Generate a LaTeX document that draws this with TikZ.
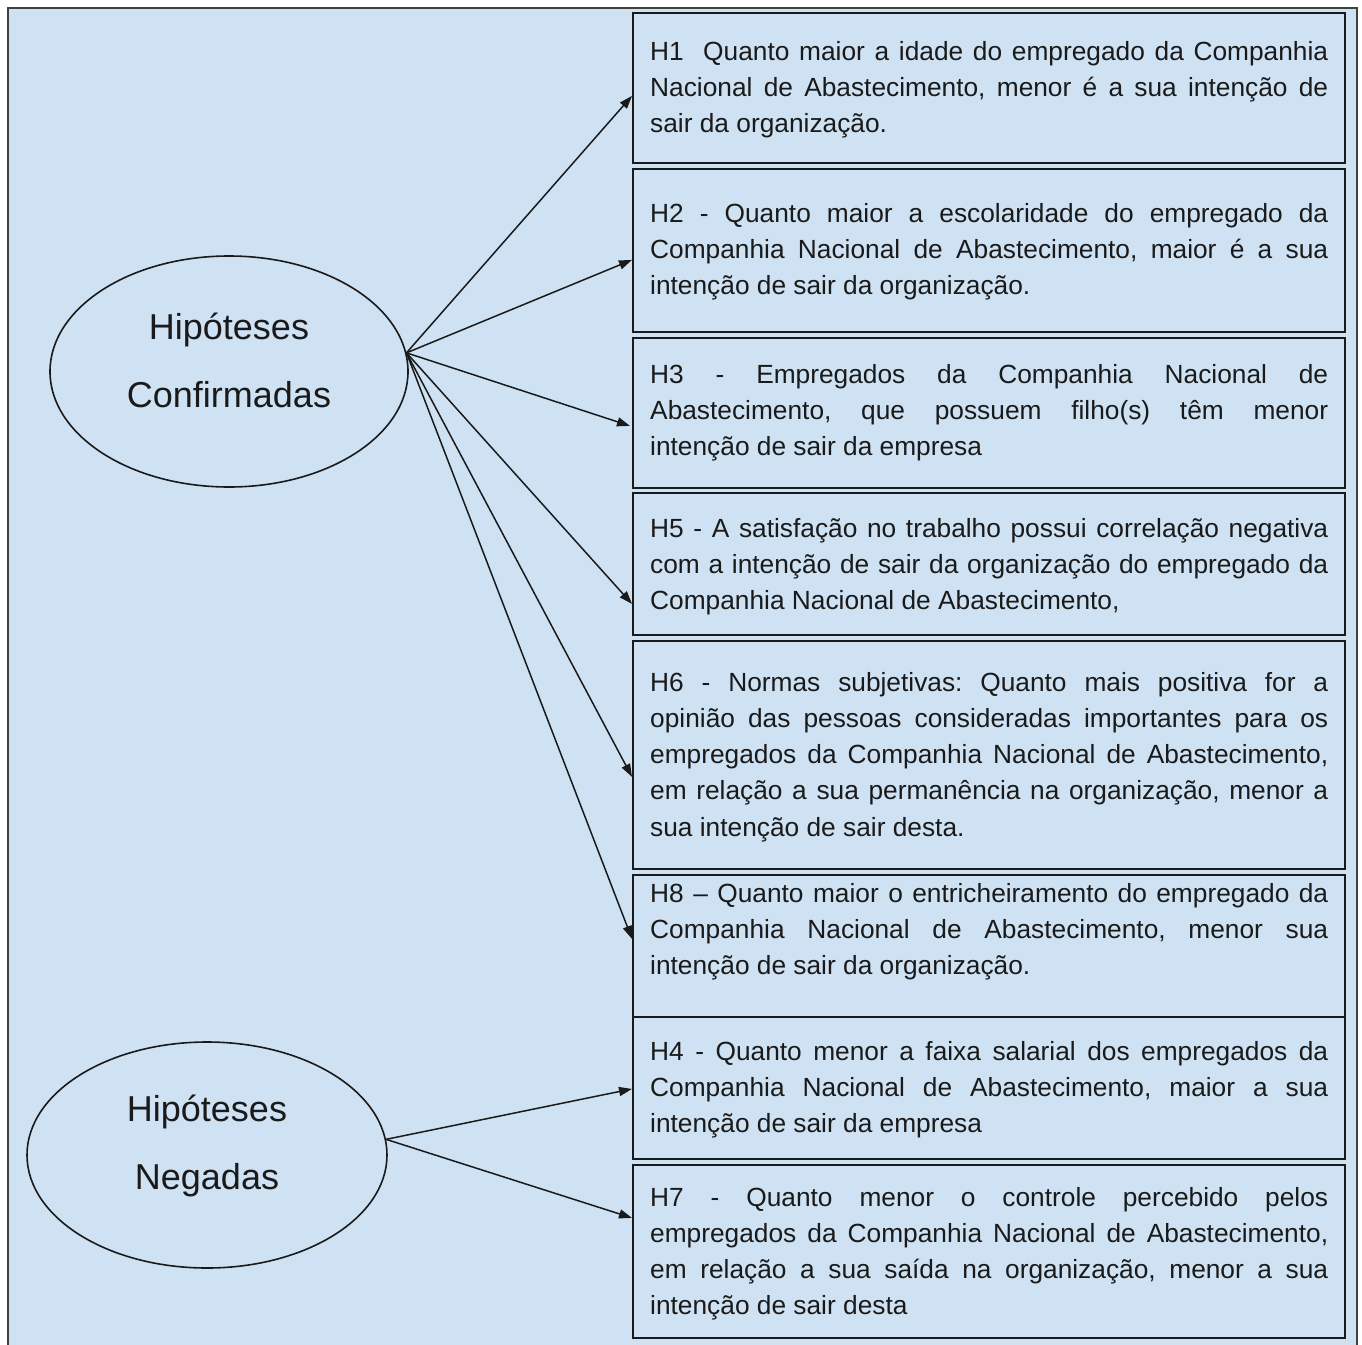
\documentclass[tikz,border=0pt]{standalone}
\usepackage{fontspec}
\setmainfont{Liberation Sans}
\usetikzlibrary{arrows.meta,shapes.geometric}
\definecolor{bgblue}{HTML}{CFE2F3}
\definecolor{ink}{HTML}{1A1A1A}
\hyphenpenalty=10000
\exhyphenpenalty=10000
\frenchspacing
\begin{document}
\begin{tikzpicture}[x=1pt,y=-1pt,
  hbox/.style={draw=ink, line width=1.8pt, rectangle, inner sep=0pt, minimum width=712pt, anchor=north west},
  htext/.style={anchor=base west, text width=678pt, align=justify, inner sep=0pt, font=\fontsize{26.3}{36.3}\selectfont\frenchspacing, text=ink},
  ell/.style={draw=ink, line width=1.6pt, ellipse, inner sep=0pt},
  etext/.style={anchor=base, text width=340pt, align=center, inner sep=0pt, font=\fontsize{36}{68.5}\selectfont, text=ink},
  arr/.style={draw=ink, line width=1.5pt, -{Triangle[length=13pt,width=9pt]}}]
\useasboundingbox (0,0) rectangle (1362,1344);
\draw[fill=bgblue, draw=black!75, line width=2pt] (8,8) rectangle (1357,1370);

% boxes
\node[hbox, minimum height=150pt] (h1) at (632,12) {};
\node[hbox, minimum height=163pt] (h2) at (632,168) {};
\node[hbox, minimum height=150pt] (h3) at (632,337) {};
\node[hbox, minimum height=142pt] (h5) at (632,492) {};
\node[hbox, minimum height=228pt] (h6) at (632,640) {};
\node[hbox, minimum height=142pt] (h8) at (632,874) {};
\node[hbox, minimum height=142pt] (h4) at (632,1016) {};
\node[hbox, minimum height=173pt] (h7) at (632,1164) {};

% texts
\node[htext] (t1) at (650,60) {H1~~Quanto maior a idade do empregado da Companhia\linebreak Nacional de Abastecimento, menor é a sua intenção de\linebreak sair da organização.};
\node[htext] (t2) at (650,222) {H2 - Quanto maior a escolaridade do empregado da\linebreak Companhia Nacional de Abastecimento, maior é a sua\linebreak intenção de sair da organização.};
\node[htext] (t3) at (650,383) {H3 - Empregados da Companhia Nacional de\linebreak Abastecimento, que possuem filho(s) têm menor\linebreak intenção de sair da empresa};
\node[htext] (t5) at (650,537) {H5 - A satisfação no trabalho possui correlação negativa\linebreak com a intenção de sair da organização do empregado da\linebreak Companhia Nacional de Abastecimento,};
\node[htext] (t6) at (650,691) {H6 - Normas subjetivas: Quanto mais positiva for a\linebreak opinião das pessoas consideradas importantes para os\linebreak empregados da Companhia Nacional de Abastecimento,\linebreak em relação a sua permanência na organização, menor a\linebreak sua intenção de sair desta.};
\node[htext] (t8) at (650,902) {H8 – Quanto maior o entricheiramento do empregado da\linebreak Companhia Nacional de Abastecimento, menor sua\linebreak intenção de sair da organização.};
\node[htext] (t4) at (650,1060) {H4 - Quanto menor a faixa salarial dos empregados da\linebreak Companhia Nacional de Abastecimento, maior a sua\linebreak intenção de sair da empresa};
\node[htext] (t7) at (650,1206) {H7 - Quanto menor o controle percebido pelos\linebreak empregados da Companhia Nacional de Abastecimento,\linebreak em relação a sua saída na organização, menor a sua\linebreak intenção de sair desta};

% ellipses
\node[ell, minimum width=358pt, minimum height=231pt] (conf) at (229,371.5) {};
\node[etext] (ctxt) at (229,339) {Hipóteses\\Confirmadas};
\node[ell, minimum width=360pt, minimum height=226pt] (neg) at (207,1155) {};
\node[etext] (ntxt) at (207,1121) {Hipóteses\\Negadas};

% arrows
\draw[arr] (conf.6) -- ([yshift=-8pt]h1.west);
\draw[arr] (conf.6) -- ([yshift=-9.5pt]h2.west);
\draw[arr] (conf.6) -- ([yshift=-13pt,xshift=-2pt]h3.west);
\draw[arr] (conf.6) -- ([yshift=-40pt]h5.west);
\draw[arr] (conf.6) -- ([yshift=-22pt]h6.west);
\draw[arr] (conf.6) -- ([yshift=7pt]h8.west);
\draw[arr] (neg.5) -- ([yshift=-1pt]h4.west);
\draw[arr] (neg.5) -- ([yshift=33.5pt]h7.west);
\end{tikzpicture}
\end{document}
